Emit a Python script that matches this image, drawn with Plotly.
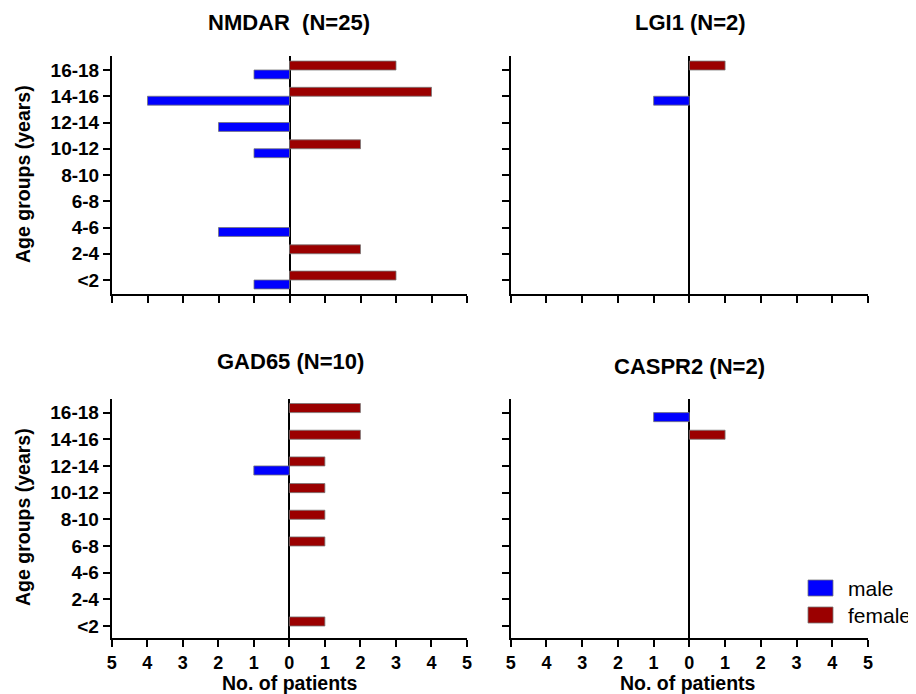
import plotly.graph_objects as go

age_groups = ["<2", "2-4", "4-6", "6-8", "8-10", "10-12", "12-14", "14-16", "16-18"]

nmdar_male = [1, 0, 2, 0, 0, 1, 2, 4, 1]
nmdar_female = [3, 2, 0, 0, 0, 2, 0, 4, 3]
lgi1_male = [0, 0, 0, 0, 0, 0, 0, 1, 0]
lgi1_female = [0, 0, 0, 0, 0, 0, 0, 0, 1]
gad65_male = [0, 0, 0, 0, 0, 0, 1, 0, 0]
gad65_female = [1, 0, 0, 1, 1, 1, 1, 2, 2]
caspr2_male = [0, 0, 0, 0, 0, 0, 0, 0, 1]
caspr2_female = [0, 0, 0, 0, 0, 0, 0, 1, 0]

panel_titles = ["NMDAR\u00a0 (N=25)", "LGI1 (N=2)", "GAD65 (N=10)", "CASPR2 (N=2)"]
x_tickvals = [-5, -4, -3, -2, -1, 0, 1, 2, 3, 4, 5]
x_ticktext = ["5", "4", "3", "2", "1", "0", "1", "2", "3", "4", "5"]

MALE_COLOR = "#0000FF"
FEMALE_COLOR = "#9B0000"
FONT = "Arial, Liberation Sans, sans-serif"

# page body has an 8px margin; figure is sized/offset so the screenshot matches
OFF = 8
W, H = 916 - OFF, 694 - OFF


def px(x):
    return (x - OFF) / W


def py(y):
    return 1 - (y - OFF) / H


panels = [
    (nmdar_male, nmdar_female),
    (lgi1_male, lgi1_female),
    (gad65_male, gad65_female),
    (caspr2_male, caspr2_female),
]

# pixel layout of the plot areas (screen coords): (left, right, top, bottom)
boxes = [
    (112, 467, 56, 294),
    (510.7, 868, 56, 294),
    (111.7, 467, 399, 638),
    (510.7, 868, 399, 638),
]
yranges = [[-0.533, 8.533], [-0.533, 8.533], [-0.45, 8.51], [-0.45, 8.51]]

fig = go.Figure()
BW = 0.34

for i, (male, female) in enumerate(panels):
    ax = "" if i == 0 else str(i + 1)
    fig.add_trace(go.Bar(
        y=age_groups, x=[-v if v else None for v in male], orientation="h",
        offset=-BW, width=BW, marker=dict(color=MALE_COLOR, line=dict(color="#777777", width=0.8)),
        xaxis="x" + ax, yaxis="y" + ax, showlegend=False, name="male",
    ))
    fig.add_trace(go.Bar(
        y=age_groups, x=[v if v else None for v in female], orientation="h",
        offset=0, width=BW, marker=dict(color=FEMALE_COLOR, line=dict(color="#777777", width=0.8)),
        xaxis="x" + ax, yaxis="y" + ax, showlegend=False, name="female",
    ))

layout = dict(
    width=W, height=H,
    margin=dict(l=0, r=0, t=0, b=0),
    paper_bgcolor="white", plot_bgcolor="white",
    barmode="overlay",
    font=dict(family=FONT, color="black"),
    showlegend=False,
)

for i, (l, r, t, b) in enumerate(boxes):
    ax = "" if i == 0 else str(i + 1)
    bottom_row = i >= 2
    left_col = i % 2 == 0
    layout["xaxis" + ax] = dict(
        domain=[px(l), px(r)], anchor="y" + ax, range=[-5, 5],
        tickvals=x_tickvals, ticktext=x_ticktext, showticklabels=bottom_row,
        ticks="outside", ticklen=7, tickwidth=2, tickcolor="black",
        showline=True, linecolor="black", linewidth=2,
        showgrid=False, zeroline=True, zerolinecolor="black", zerolinewidth=2,
        tickfont=dict(size=18, family=FONT, color="black", weight="bold"),
        fixedrange=True, automargin=False,
    )
    layout["yaxis" + ax] = dict(
        domain=[py(b), py(t)], anchor="x" + ax,
        type="category", categoryorder="array", categoryarray=age_groups,
        range=yranges[i], showticklabels=left_col,
        ticks="outside", ticklen=7, tickwidth=2, tickcolor="black",
        showline=True, linecolor="black", linewidth=2, showgrid=False,
        tickfont=dict(size=19, family=FONT, color="black", weight="bold"),
        fixedrange=True, automargin=False,
    )

fig.update_layout(**layout)

annotations = []
title_pos = [(289, 23), (690, 23), (290, 361), (689, 366)]
for (x, y), txt in zip(title_pos, panel_titles):
    annotations.append(dict(
        x=px(x), y=py(y), xref="paper", yref="paper", text="<b>%s</b>" % txt,
        showarrow=False, font=dict(size=22, family=FONT, color="black"),
        xanchor="center", yanchor="middle",
    ))
for y in (174, 517):
    annotations.append(dict(
        x=px(23), y=py(y), xref="paper", yref="paper", text="<b>Age groups (years)</b>",
        showarrow=False, textangle=-90, font=dict(size=19.5, family=FONT, color="black"),
        xanchor="center", yanchor="middle",
    ))
for x in (290, 688):
    annotations.append(dict(
        x=px(x), y=py(683), xref="paper", yref="paper", text="<b>No. of patients</b>",
        showarrow=False, font=dict(size=19.5, family=FONT, color="black"),
        xanchor="center", yanchor="middle",
    ))

# legend
shapes = []
for (y0, y1, col, label) in [(580, 596, MALE_COLOR, "male"), (607, 623, FEMALE_COLOR, "female")]:
    shapes.append(dict(
        type="rect", xref="paper", yref="paper",
        x0=px(808), x1=px(833), y0=py(y1), y1=py(y0),
        fillcolor=col, line=dict(color="#777777", width=0.8),
    ))
    annotations.append(dict(
        x=px(846), y=py((y0 + y1) / 2), xref="paper", yref="paper", text=label,
        showarrow=False, font=dict(size=21, family=FONT, color="black"),
        xanchor="left", yanchor="middle",
    ))

fig.update_layout(annotations=annotations, shapes=shapes)
fig.write_html("out.html")
